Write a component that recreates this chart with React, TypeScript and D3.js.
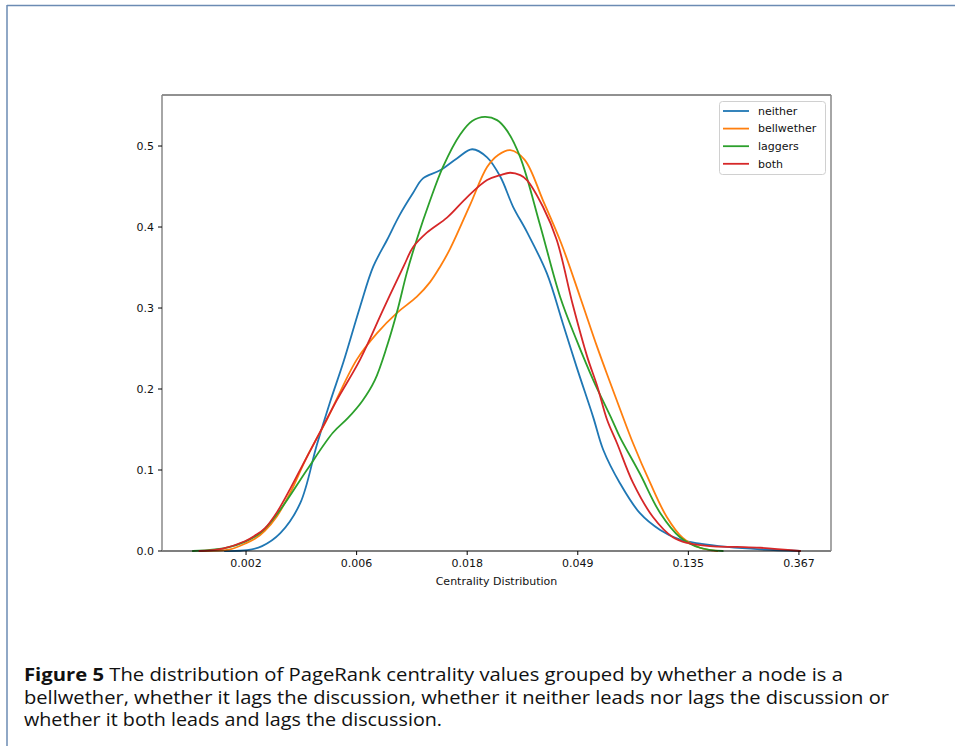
import React from "react";
import * as d3 from "d3";

// log(centrality) grid values and densities for each group
const neitherX = [-6.19, -5.99, -5.855, -5.69, -5.51, -5.36, -5.24, -5.12, -4.97, -4.85, -4.725, -4.61, -4.49, -4.40, -4.245, -4.09, -3.955, -3.82, -3.70, -3.585, -3.46, -3.28, -3.135, -3.01, -2.86, -2.77, -2.62, -2.44, -2.255, -2.075, -1.895, -1.65, -1.35, -0.99];
const neitherY = [0, 0.001, 0.006, 0.022, 0.059, 0.131, 0.184, 0.233, 0.301, 0.351, 0.384, 0.415, 0.442, 0.460, 0.470, 0.485, 0.496, 0.486, 0.462, 0.425, 0.394, 0.343, 0.281, 0.227, 0.165, 0.125, 0.084, 0.047, 0.026, 0.014, 0.009, 0.005, 0.002, 0];

const bellX = [-6.42, -6.145, -6.01, -5.92, -5.83, -5.72, -5.60, -5.45, -5.27, -5.0, -4.815, -4.635, -4.455, -4.336, -4.245, -4.155, -3.975, -3.82, -3.72, -3.61, -3.48, -3.315, -3.15, -2.98, -2.825, -2.71, -2.62, -2.50, -2.345, -2.195, -2.05, -1.895, -1.74];
const bellY = [0, 0.002, 0.009, 0.015, 0.025, 0.043, 0.072, 0.116, 0.162, 0.236, 0.269, 0.294, 0.314, 0.332, 0.351, 0.373, 0.427, 0.474, 0.489, 0.495, 0.483, 0.433, 0.380, 0.314, 0.252, 0.209, 0.176, 0.133, 0.084, 0.042, 0.016, 0.004, 0];

const laggersX = [-6.48, -6.145, -5.875, -5.69, -5.45, -5.215, -5.08, -4.95, -4.835, -4.725, -4.635, -4.545, -4.455, -4.335, -4.22, -4.065, -3.955, -3.84, -3.73, -3.64, -3.52, -3.34, -3.16, -3.01, -2.86, -2.69, -2.62, -2.44, -2.255, -2.075, -1.895, -1.69];
const laggersY = [0, 0.005, 0.022, 0.051, 0.100, 0.146, 0.164, 0.185, 0.211, 0.253, 0.295, 0.344, 0.385, 0.433, 0.474, 0.514, 0.531, 0.536, 0.532, 0.519, 0.486, 0.402, 0.314, 0.260, 0.211, 0.162, 0.141, 0.096, 0.047, 0.017, 0.004, 0];

const bothX = [-6.42, -6.21, -6.01, -5.92, -5.83, -5.72, -5.60, -5.485, -5.33, -5.18, -4.97, -4.76, -4.57, -4.49, -4.365, -4.18, -4.0, -3.82, -3.70, -3.61, -3.52, -3.46, -3.315, -3.19, -3.045, -2.915, -2.825, -2.735, -2.645, -2.50, -2.32, -2.14, -2.01, -1.805, -1.56, -1.35, -0.99];
const bothY = [0, 0.003, 0.012, 0.019, 0.028, 0.048, 0.077, 0.107, 0.147, 0.186, 0.236, 0.298, 0.353, 0.375, 0.393, 0.412, 0.437, 0.458, 0.464, 0.467, 0.464, 0.458, 0.425, 0.384, 0.304, 0.240, 0.204, 0.162, 0.133, 0.084, 0.042, 0.017, 0.010, 0.006, 0.005, 0.004, 0];

const seriesNames = ["neither", "bellwether", "laggers", "both"];
const seriesColors = ["#1f77b4", "#ff7f0e", "#2ca02c", "#d62728"];

const xTickValues = [-6, -5, -4, -3, -2, -1];
const xTickLabels = ["0.002", "0.006", "0.018", "0.049", "0.135", "0.367"];
const yTickValues = [0, 0.1, 0.2, 0.3, 0.4, 0.5];

const xLabel = "Centrality Distribution";
const captionBold = "Figure 5";
const captionLines = [
  " The distribution of PageRank centrality values grouped by whether a node is a",
  "bellwether, whether it lags the discussion, whether it neither leads nor lags the discussion or",
  "whether it both leads and lags the discussion.",
];

export default function App() {
  const W = 955, H = 746;
  const left = 162, right = 831, top = 95, bottom = 551;
  const x = d3.scaleLinear().domain([-6.76, -0.71]).range([left, right]);
  const y = d3.scaleLinear().domain([0, 0.563]).range([bottom, top]);
  const line = d3
    .line<[number, number]>()
    .x((d) => x(d[0]))
    .y((d) => y(d[1]))
    .curve(d3.curveCatmullRom.alpha(0.5));
  const allX = [neitherX, bellX, laggersX, bothX];
  const allY = [neitherY, bellY, laggersY, bothY];
  const font = "DejaVu Sans, sans-serif";
  const capFont = "Open Sans, DejaVu Sans, sans-serif";

  return (
    <svg
      width={W}
      height={H}
      style={{ position: "absolute", left: 0, top: 0, display: "block", background: "#fff" }}
    >
      <rect x={0} y={0} width={W} height={H} fill="#fff" />
      {/* page border */}
      <line x1={7} y1={5.5} x2={W} y2={5.5} stroke="#6b8bb3" strokeWidth={1.5} />
      <line x1={7} y1={5} x2={7} y2={H} stroke="#6b8bb3" strokeWidth={1.5} />

      {/* curves */}
      {allX.map((xs, i) => (
        <path
          key={seriesNames[i]}
          d={line(xs.map((v, j) => [v, Math.max(0, allY[i][j])] as [number, number])) || ""}
          fill="none"
          stroke={seriesColors[i]}
          strokeWidth={1.8}
          strokeLinejoin="round"
          strokeLinecap="square"
        />
      ))}

      {/* spines */}
      <line x1={left} y1={top} x2={right} y2={top} stroke="#222" strokeWidth={1} />
      <line x1={left} y1={bottom} x2={right} y2={bottom} stroke="#000" strokeWidth={1.2} />
      <line x1={left} y1={top} x2={left} y2={bottom} stroke="#888" strokeWidth={1.5} />
      <line x1={right} y1={top} x2={right} y2={bottom} stroke="#888" strokeWidth={1.5} />

      {/* y ticks */}
      {yTickValues.map((v) => (
        <g key={v}>
          <line x1={left - 4} x2={left} y1={y(v)} y2={y(v)} stroke="#000" strokeWidth={1} />
          <text x={left - 8} y={y(v)} dy="0.35em" textAnchor="end" fontFamily={font} fontSize={11} fill="#111">
            {d3.format(".1f")(v)}
          </text>
        </g>
      ))}

      {/* x ticks */}
      {xTickValues.map((v, i) => (
        <g key={v}>
          <line x1={x(v)} x2={x(v)} y1={bottom} y2={bottom + 4} stroke="#000" strokeWidth={1} />
          <text x={x(v)} y={bottom + 16} textAnchor="middle" fontFamily={font} fontSize={11} fill="#111">
            {xTickLabels[i]}
          </text>
        </g>
      ))}
      <text x={(left + right) / 2} y={bottom + 34} textAnchor="middle" fontFamily={font} fontSize={11} fill="#111">
        {xLabel}
      </text>

      {/* legend */}
      <rect x={719.5} y={101.5} width={106} height={73} rx={3} fill="#fff" fillOpacity={0.8} stroke="#d0d0d0" strokeWidth={1} />
      {seriesNames.map((name, i) => {
        const ly = 111 + i * 17.6;
        return (
          <g key={name}>
            <line x1={723} x2={749} y1={ly} y2={ly} stroke={seriesColors[i]} strokeWidth={1.8} />
            <text x={758} y={ly} dy="0.35em" fontFamily={font} fontSize={11} fill="#111">
              {name}
            </text>
          </g>
        );
      })}

      {/* caption */}
      <text x={24} y={681} fontFamily={capFont} fontSize={18} fill="#111" textLength={819} lengthAdjust="spacingAndGlyphs">
        <tspan fontWeight="bold">{captionBold}</tspan>
        {captionLines[0]}
      </text>
      <text x={24} y={703.5} fontFamily={capFont} fontSize={18} fill="#111" textLength={865} lengthAdjust="spacingAndGlyphs">
        {captionLines[1]}
      </text>
      <text x={24} y={726} fontFamily={capFont} fontSize={18} fill="#111" textLength={418} lengthAdjust="spacingAndGlyphs">
        {captionLines[2]}
      </text>
    </svg>
  );
}
